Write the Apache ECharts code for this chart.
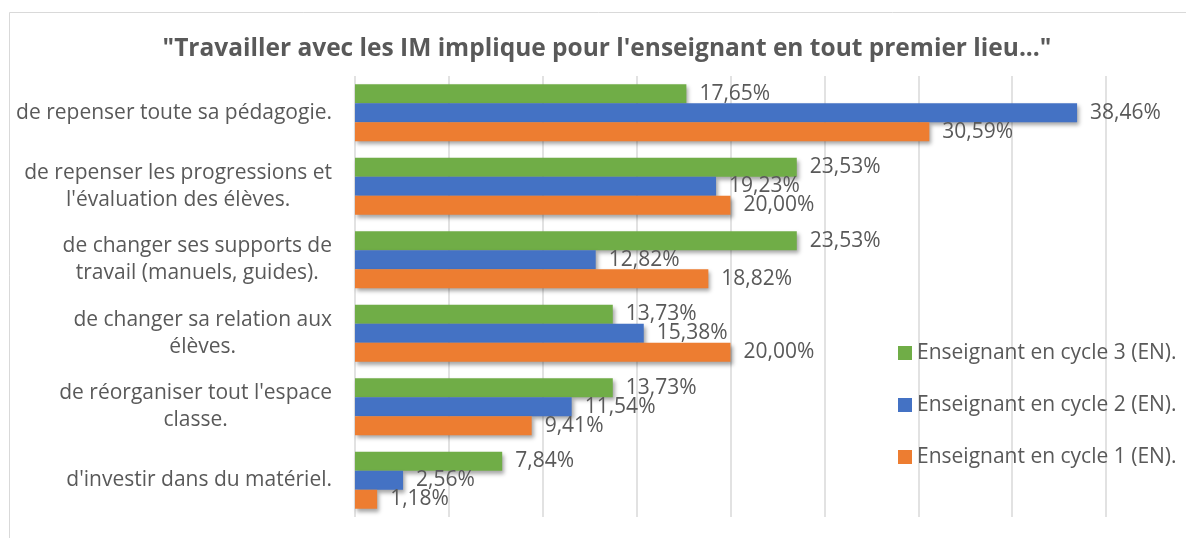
<!DOCTYPE html>
<html><head><meta charset="utf-8">
<script src="https://cdn.jsdelivr.net/npm/echarts@6/dist/echarts.min.js"></script>
<style>html,body{margin:0;padding:0;background:#fff}#c{width:1186px;height:538px}</style>
</head><body><div id="c"></div>
<script>
const titleText = '"Travailler avec les IM implique pour l\'enseignant en tout premier lieu..."';
const categories = [
  'de repenser toute sa pédagogie.',
  'de repenser les progressions et\nl\'évaluation des élèves.',
  'de changer ses supports de\ntravail (manuels, guides).',
  'de changer sa relation aux\nélèves.',
  'de réorganiser tout l\'espace\nclasse.',
  'd\'investir dans du matériel.'
];
const seriesNames = ['Enseignant en cycle 3 (EN).', 'Enseignant en cycle 2 (EN).', 'Enseignant en cycle 1 (EN).'];
const cycle3 = [17.65, 23.53, 23.53, 13.73, 13.73, 7.84];
const cycle2 = [38.46, 19.23, 12.82, 15.38, 11.54, 2.56];
const cycle1 = [30.59, 20.00, 18.82, 20.00, 9.41, 1.18];
const xMin = 0, xMax = 40, xInterval = 5;

const FONT = 'Open Sans';
const TXT = '#595959';
const colors = ['#70AD47', '#4472C4', '#ED7D31'];
const fmt = p => p.value.toFixed(2).replace('.', ',') + '%';

function mkSeries(name, data, color) {
  return {
    name, type: 'bar', data,
    barGap: '0%', barCategoryGap: '22.5%',
    itemStyle: { color, shadowColor: 'rgba(0,0,0,0.35)', shadowBlur: 4, shadowOffsetX: 2, shadowOffsetY: 3 },
    label: { show: true, position: 'right', distance: 13, formatter: fmt,
      fontFamily: FONT, fontSize: 21, color: TXT },
    emphasis: { disabled: true }
  };
}

const chart = echarts.init(document.getElementById('c'), null, { renderer: 'canvas' });
chart.setOption({
  animation: false,
  backgroundColor: '#fff',
  graphic: [{ type: 'rect', shape: { x: 9.5, y: 12.5, width: 1300, height: 700 },
    style: { fill: 'none', stroke: '#d9d9d9', lineWidth: 1 }, silent: true, z: -10 }],
  title: {
    text: titleText, left: 602, top: 32, textAlign: 'center',
    textStyle: { fontFamily: FONT, fontWeight: 'bold', fontSize: 24.5, color: TXT }
  },
  legend: {
    orient: 'vertical', left: 893, top: 336,
    data: seriesNames,
    icon: 'rect', itemWidth: 14, itemHeight: 14, itemGap: 28,
    textStyle: { fontFamily: FONT, fontSize: 21, color: TXT, lineHeight: 24 }
  },
  grid: { left: 355, right: 80, top: 76, bottom: 21, containLabel: false },
  xAxis: {
    type: 'value', min: xMin, max: xMax, interval: xInterval,
    axisLabel: { show: false }, axisLine: { show: false }, axisTick: { show: false },
    splitLine: { show: true, lineStyle: { color: '#d9d9d9', width: 1.5 } }
  },
  yAxis: {
    type: 'category', data: categories, inverse: true,
    axisLine: { show: false }, axisTick: { show: false },
    axisLabel: {
      margin: 23, align: 'right',
      formatter: v => v.split('\n').map(s => '{c|' + s + '}').join('\n'),
      rich: { c: { align: 'center', fontFamily: FONT, fontSize: 21, color: TXT, lineHeight: 27 } }
    }
  },
  series: [
    mkSeries(seriesNames[0], cycle3, colors[0]),
    mkSeries(seriesNames[1], cycle2, colors[1]),
    mkSeries(seriesNames[2], cycle1, colors[2])
  ]
});
</script></body></html>
